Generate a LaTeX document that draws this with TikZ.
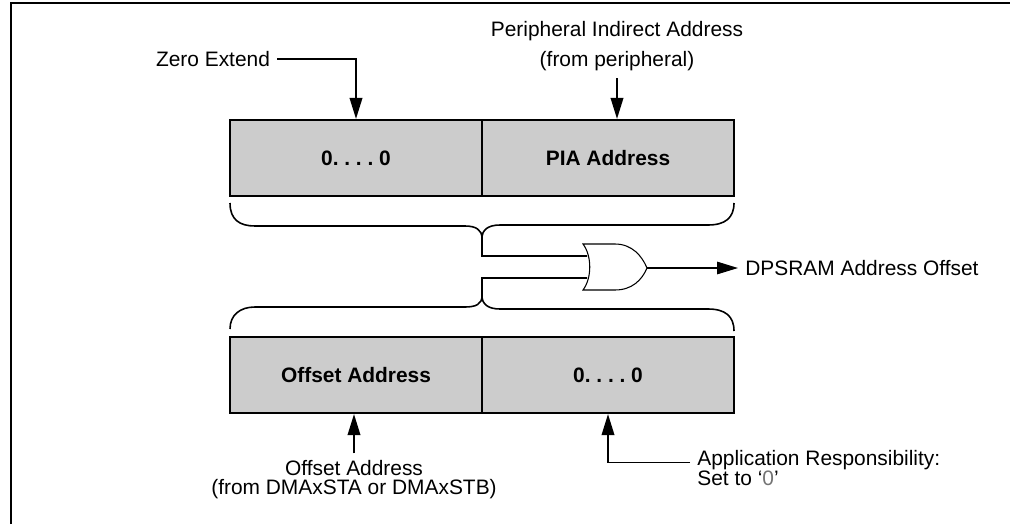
\documentclass[tikz,border=0pt]{standalone}
\usepackage{fontspec}
\setmainfont{Liberation Sans}
\usetikzlibrary{arrows.meta}
\tikzstyle{field}=[rectangle,draw=black,fill=black!20,line width=1.2pt,minimum width=5.04cm,minimum height=1.52cm,inner sep=0pt,font=\fontsize{11.9}{14}\selectfont\bfseries]
\tikzstyle{label}=[inner sep=0.14cm]
\tikzstyle{pointer}=[-{Triangle[length=0.42cm,width=0.25cm]},line width=1.1pt]
\tikzstyle{brace}=[line width=0.9pt]
\tikzstyle{gate}=[draw=black,fill=white,line width=0.6pt]

\begin{document}
\begin{tikzpicture}[x=0.02cm,y=-0.02cm,font=\fontsize{11.9}{14}\selectfont]
                    \useasboundingbox (0,0) rectangle (1010,524);
                    \draw [line width=1.4pt] (11,524) -- (11,3) -- (1010,3);

                    \node (zeroTop) at (356,158) [field] {0.\ .\ .\ .\ 0};
                    \node (piaBox) at (608,158) [field] {PIA Address};
                    \node (offBox) at (356,375) [field] {Offset Address};
                    \node (zeroBot) at (608,375) [field] {0.\ .\ .\ .\ 0};

                    \node (zeroTxt) at (213,59) [label] {Zero Extend};
                    \node (piaTxt) at (617,46) [label,align=center,font=\fontsize{11.9}{17}\selectfont] {Peripheral Indirect Address\\(from peripheral)};
                    \node (offTxt) at (354,480) [label,align=center,font=\fontsize{11.9}{10.8}\selectfont] {Offset Address\\(from DMAxSTA or DMAxSTB)};
                    \node (appTxt) at (690,468) [label,anchor=west,align=left,font=\fontsize{11.9}{11.9}\selectfont] {Application Responsibility:\\Set to `{\color{black!55}0}'};
                    \node (dpsTxt) at (738,268) [label,anchor=west] {DPSRAM Address Offset};

                    \coordinate (orIn1) at (587,256);
                    \coordinate (orIn2) at (587,278);
                    \coordinate (orOut) at (647,268);

                    % braces over the two words
                    \draw [brace] (230,203) .. controls (230,220) and (240,226) .. (255,226) -- (465,226) .. controls (476,226) and (482,230) .. (482,238) -- (482,256) -- (orIn1);
                    \draw [brace] (482,238) .. controls (482,230) and (488,225) .. (500,225) -- (708,225) .. controls (725,225) and (734,218) .. (734,203);
                    \draw [brace] (230,329) .. controls (230,315) and (240,307) .. (255,307) -- (465,307) .. controls (476,307) and (482,304) .. (482,296) -- (482,278) -- (orIn2);
                    \draw [brace] (482,296) .. controls (482,304) and (488,309) .. (500,309) -- (708,309) .. controls (725,309) and (734,316) .. (734,331);

                    % or gate
                    \draw [gate] (583,244) -- (615,244) .. controls (632,244) and (642,256) .. (orOut) .. controls (642,280) and (632,290) .. (615,290) -- (583,290) .. controls (592,278) and (592,256) .. (583,244) -- cycle;

                    \draw [pointer] (zeroTxt.east) -| (zeroTop.north);
                    \draw [pointer] (piaTxt.south) -- (piaTxt.south |- piaBox.north);
                    \draw [pointer] (offTxt.north) -- (offTxt.north |- offBox.south);
                    \draw [pointer] ([yshift=0.11cm]appTxt.west) -| (zeroBot.south);
                    \draw [pointer,line width=0.8pt] (orOut) -- (dpsTxt.west);
                \end{tikzpicture}
\end{document}
